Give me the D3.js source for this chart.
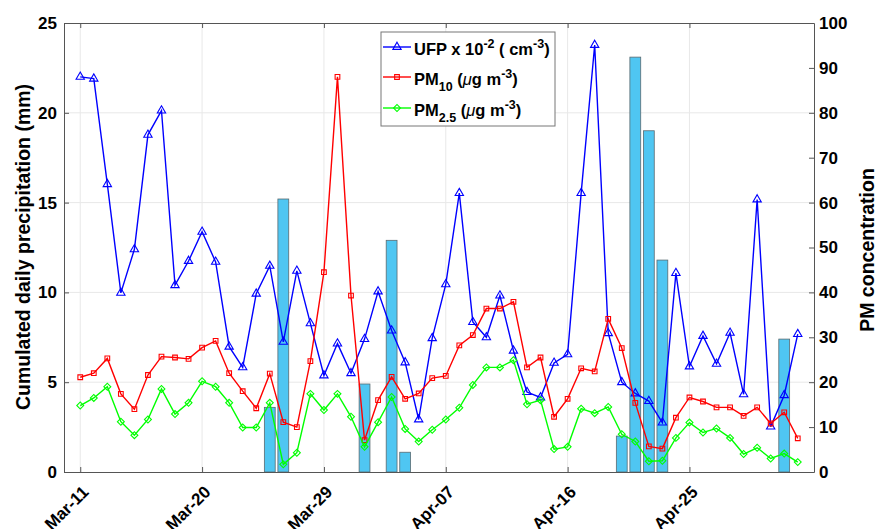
<!DOCTYPE html>
<html>
<head>
<meta charset="utf-8">
<script src="https://cdn.jsdelivr.net/npm/d3@7"></script>
<style>
  body { margin: 0; background: #fff; }
  svg text { font-family: "Liberation Sans", Arial, sans-serif; font-weight: bold; fill: #000; }
</style>
</head>
<body>
<svg id="chart" width="877" height="529"></svg>
<script>
// daily values, Mar-11 .. May-03
var firstDay = "Mar-11";
var lastDay = "May-03";
var tickLabels = ["Mar-11", "Mar-20", "Mar-29", "Apr-07", "Apr-16", "Apr-25"];

var ufp = [88.0, 87.6, 64.1, 39.9, 49.6, 75.1, 80.5, 41.6, 47.0, 53.5,
           46.8, 27.9, 23.3, 39.7, 45.9, 29.0, 44.8, 33.1, 21.5, 28.6,
           22.0, 29.6, 40.2, 31.5, 24.4, 11.7, 29.8, 41.8, 62.1, 33.4,
           30.0, 39.3, 27.0, 17.8, 16.6, 24.3, 26.2, 62.1, 95.1, 30.9,
           20.0, 17.5, 15.8, 11.0, 44.3, 23.5, 30.3, 24.1, 31.0, 17.3,
           60.7, 10.1, 17.1, 30.7];

var pm10 = [21.1, 22.0, 25.3, 17.4, 14.0, 21.6, 25.7, 25.5, 25.2, 27.7,
            29.2, 22.0, 18.0, 14.2, 21.9, 11.1, 10.0, 24.7, 44.5, 88.0,
            39.3, 7.1, 16.0, 21.2, 16.3, 17.5, 20.9, 21.4, 28.2, 30.5,
            36.4, 36.4, 37.9, 23.3, 25.5, 12.3, 16.3, 23.1, 22.4, 34.1,
            27.6, 15.4, 5.7, 5.2, 12.1, 16.6, 15.7, 14.4, 14.4, 12.5,
            14.4, 10.8, 13.3, 7.5];

var pm25 = [14.8, 16.5, 19.0, 11.2, 8.2, 11.7, 18.5, 12.9, 15.4, 20.2,
            19.0, 15.4, 9.9, 9.9, 15.4, 1.7, 4.3, 17.4, 13.8, 17.4,
            12.3, 5.6, 11.1, 16.7, 9.6, 6.8, 9.4, 11.7, 14.3, 19.4,
            23.3, 23.3, 24.9, 15.1, 16.0, 5.1, 5.6, 14.1, 13.1, 14.5,
            8.4, 6.8, 2.4, 2.5, 7.6, 11.0, 8.8, 9.7, 7.6, 4.0,
            5.4, 3.0, 4.1, 2.2];

var precip = [0, 0, 0, 0, 0, 0, 0, 0, 0, 0,
              0, 0, 0, 0, 3.6, 15.2, 0, 0, 0, 0,
              0, 4.9, 0, 12.9, 1.1, 0, 0, 0, 0, 0,
              0, 0, 0, 0, 0, 0, 0, 0, 0, 0,
              2.0, 23.1, 19.0, 11.8, 0, 0, 0, 0, 0, 0,
              0, 0, 7.4, 0];

var leftTicks = [0, 5, 10, 15, 20, 25];
var rightTicks = [0, 10, 20, 30, 40, 50, 60, 70, 80, 90, 100];

var parseDay = d3.timeParse("%b-%d");
var fmtDay = d3.timeFormat("%b-%d");
var days = d3.timeDay.range(parseDay(firstDay), d3.timeDay.offset(parseDay(lastDay), 1));

var series = [
  { name: "ufp", values: ufp, color: "#0000ff", marker: "triangle" },
  { name: "pm10", values: pm10, color: "#ff0000", marker: "square" },
  { name: "pm25", values: pm25, color: "#00ff00", marker: "diamond" }
];

var W = 877, H = 529;
var margin = { top: 23, right: 63, bottom: 57, left: 64 };
var plotW = W - margin.left - margin.right;
var plotH = H - margin.top - margin.bottom;
var DAY = 864e5;
var axisColor = "#555";
var gridColor = "#e8e8e8";

var svg = d3.select("#chart");
var g = svg.append("g").attr("transform", `translate(${margin.left},${margin.top})`);

var x = d3.scaleTime()
  .domain([new Date(+days[0] - 1.2 * DAY), new Date(+days[0] + 54.2 * DAY)])
  .range([0, plotW]);
var yLeft = d3.scaleLinear().domain([0, 25]).range([plotH, 0]);
var yRight = d3.scaleLinear().domain([0, 100]).range([plotH, 0]);

var tickDates = tickLabels.map(parseDay);

// grid
g.append("g").selectAll("line.vg")
  .data(tickDates).enter().append("line")
  .attr("x1", d => x(d)).attr("x2", d => x(d))
  .attr("y1", 0).attr("y2", plotH)
  .attr("stroke", gridColor);
g.append("g").selectAll("line.hg")
  .data(leftTicks.slice(1, -1)).enter().append("line")
  .attr("x1", 0).attr("x2", plotW)
  .attr("y1", d => yLeft(d)).attr("y2", d => yLeft(d))
  .attr("stroke", gridColor);

// precipitation bars
var barW = (x(days[1]) - x(days[0])) * 0.8;
g.append("g").selectAll("rect")
  .data(days.map((d, i) => ({ date: d, v: precip[i] })).filter(d => d.v > 0))
  .enter().append("rect")
  .attr("x", d => x(d.date) - barW / 2)
  .attr("width", barW)
  .attr("y", d => yLeft(d.v))
  .attr("height", d => plotH - yLeft(d.v))
  .attr("fill", "#4fc6f2")
  .attr("stroke", "#5a6a70")
  .attr("stroke-width", 0.8);

function markerPath(type) {
  if (type == "triangle") return d3.symbol(d3.symbolTriangle, 30)();
  return d3.symbol(d3.symbolSquare, type == "square" ? 22 : 24)();
}

// lines + markers
var line = d3.line().x((d, i) => x(days[i])).y(d => yRight(d));
series.forEach(s => {
  var sg = g.append("g").attr("class", s.name);
  sg.append("path")
    .attr("d", line(s.values))
    .attr("fill", "none")
    .attr("stroke", s.color)
    .attr("stroke-width", 1.4);
  sg.selectAll("path.m")
    .data(s.values).enter().append("path")
    .attr("class", "m")
    .attr("d", markerPath(s.marker))
    .attr("transform", (d, i) => `translate(${x(days[i])},${yRight(d)})` + (s.marker == "diamond" ? " rotate(45)" : ""))
    .attr("fill", "none")
    .attr("stroke", s.color)
    .attr("stroke-width", 1.1);
});

// axes
var bottomAxis = g.append("g")
  .attr("transform", `translate(0,${plotH})`)
  .call(d3.axisBottom(x).tickValues(tickDates).tickFormat(fmtDay).tickSize(-5).tickSizeOuter(0));
bottomAxis.selectAll("text")
  .attr("text-anchor", "end")
  .attr("font-size", 17)
  .attr("dy", 0)
  .attr("y", 0)
  .attr("transform", "translate(9,21) rotate(-45)");

g.append("g")
  .call(d3.axisTop(x).tickValues(tickDates).tickFormat("").tickSize(-5).tickSizeOuter(0));

var leftAxis = g.append("g")
  .call(d3.axisLeft(yLeft).tickValues(leftTicks).tickSize(-5).tickSizeOuter(0).tickPadding(7));
leftAxis.selectAll("text").attr("font-size", 17);

var rightAxis = g.append("g")
  .attr("transform", `translate(${plotW},0)`)
  .call(d3.axisRight(yRight).tickValues(rightTicks).tickSize(-5).tickSizeOuter(0).tickPadding(5));
rightAxis.selectAll("text").attr("font-size", 17);

g.selectAll(".domain, .tick line").attr("stroke", axisColor);
g.selectAll(".tick text").attr("fill", "#000").attr("font-family", null);

// axis titles
svg.append("text")
  .attr("transform", `translate(30,${margin.top + 224}) rotate(-90)`)
  .attr("text-anchor", "middle")
  .attr("font-size", 19.5)
  .text("Cumulated daily precipitation (mm)");
svg.append("text")
  .attr("transform", `translate(874,${margin.top + 227}) rotate(-90)`)
  .attr("text-anchor", "middle")
  .attr("font-size", 19.5)
  .text("PM concentration");

// legend
var legend = svg.append("g").attr("transform", "translate(381,32)");
legend.append("rect")
  .attr("width", 174).attr("height", 94)
  .attr("fill", "#fff").attr("stroke", "#777").attr("stroke-width", 1);

var legendRows = [
  { s: series[0], cy: 15, parts: [["UFP x 10", 0], ["-2", -1], [" ( cm", 0], ["-3", -1], [")", 0]] },
  { s: series[1], cy: 45, parts: [["PM", 0], ["10", 1], [" (", 0], ["μ", 2], ["g m", 0], ["-3", -1], [")", 0]] },
  { s: series[2], cy: 76, parts: [["PM", 0], ["2.5", 1], [" (", 0], ["μ", 2], ["g m", 0], ["-3", -1], [")", 0]] }
];

legendRows.forEach(r => {
  var row = legend.append("g").attr("transform", `translate(0,${r.cy})`);
  row.append("line")
    .attr("x1", 2).attr("x2", 30).attr("y1", 0).attr("y2", 0)
    .attr("stroke", r.s.color).attr("stroke-width", 1.4);
  row.append("path")
    .attr("d", markerPath(r.s.marker))
    .attr("transform", "translate(16,0)" + (r.s.marker == "diamond" ? " rotate(45)" : ""))
    .attr("fill", "none").attr("stroke", r.s.color).attr("stroke-width", 1.1);
  var t = row.append("text").attr("x", 33).attr("y", 8).attr("font-size", 16.5);
  var shift = 0;
  r.parts.forEach(p => {
    var target = p[1] == -1 ? -7 : p[1] == 1 ? 6 : 0;
    var ts = t.append("tspan").text(p[0]).attr("dy", target - shift);
    shift = target;
    if (p[1] == -1 || p[1] == 1) ts.attr("font-size", 12.5);
    if (p[1] == 2) ts.attr("font-style", "italic").attr("font-weight", "normal");
  });
});
</script>
</body>
</html>
